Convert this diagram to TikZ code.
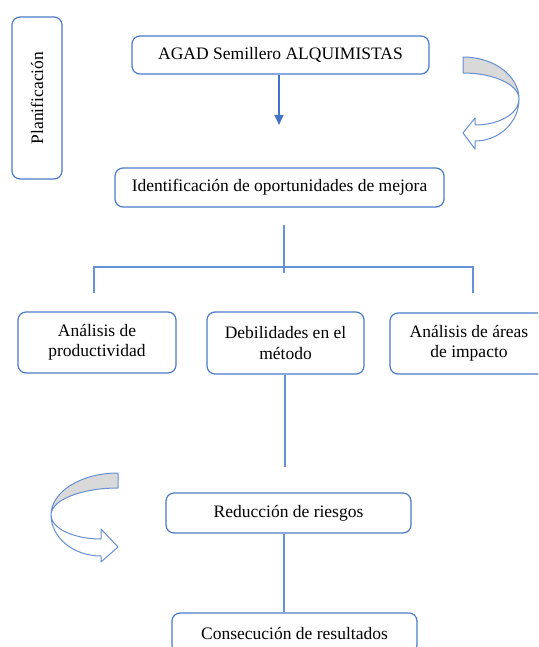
\documentclass[tikz,border=0pt]{standalone}
\usepackage{fontspec}
\setmainfont{Liberation Serif}
\usetikzlibrary{arrows.meta}

\definecolor{azulcaja}{HTML}{4A7BCB}
\definecolor{azullinea}{HTML}{6591D6}
\definecolor{azulflecha}{HTML}{4472C4}
\definecolor{grisbanda}{HTML}{D9D9D9}

\begin{document}
\begin{tikzpicture}[x=1pt, y=-1pt,
        font = \fontsize{17.5}{20.5}\selectfont,
        caja/.style = {draw=azulcaja, line width=1.2pt, rounded corners=8pt,
                       fill=white, align=center, inner sep=0pt},
        linea/.style = {draw=azullinea, line width=1.4pt},
        cinta/.style = {draw=azulcaja!85, line width=1pt, line join=round}]
            \useasboundingbox (0,0) rectangle (538,647);
            \clip (0,0) rectangle (538,647);
            
            \node[caja, rotate=90, minimum width=162pt, minimum height=50pt] (plan) at (37,98) {Planificación};
            \node[caja, minimum width=297pt, minimum height=38pt] (agad) at (280.5,55) {AGAD Semillero ALQUIMISTAS};
            \node[caja, minimum width=329pt, minimum height=39pt] (ident) at (279.5,187.5) {Identificación de oportunidades de mejora};
            
            \node[caja, minimum width=158pt, minimum height=61pt] (prod) at (97,342.5) {Análisis de\\productividad};
            \node[caja, minimum width=157pt, minimum height=62pt] (debil) at (285.5,343) {Debilidades en el\\método};
            \node[caja, minimum width=158pt, minimum height=61pt] (areas) at (469,343.5) {Análisis de áreas\\de impacto};
            
            \node[caja, minimum width=245pt, minimum height=40pt] (riesgo) at (288.5,513) {Reducción de riesgos};
            \node[caja, minimum width=245pt, minimum height=40pt] (conse) at (294.5,633) {Consecución de resultados};
            
            % free ends of the connectors
            \coordinate (punta) at (279,125);
            \coordinate (tronco) at (284,225);
            \coordinate (cruce) at (284,273);
            \coordinate (barra) at (284,267);
            \coordinate (ramaizq) at (94,293);
            \coordinate (ramader) at (473,293);
            \coordinate (corte) at (285,467);
            
            \draw[azulflecha, line width=1.4pt, -{Triangle[width=9pt,length=10pt]}] (agad.south -| punta) -- (punta);
            \draw[linea] (tronco) -- (cruce);
            \draw[linea] (ramaizq) -- (ramaizq |- barra) -- (ramader |- barra) -- (ramader);
            \draw[linea] (debil.south -| corte) -- (corte);
            \draw[linea] (riesgo.south -| tronco) -- (conse.north -| tronco);
            
            % curved arrow, right
            \draw[cinta, fill=grisbanda]
            (463,57) .. controls (493.9,57) and (519,75.8) .. (519,99)
            .. controls (519,84.6) and (493.9,73) .. (463,73) -- cycle;
            \draw[cinta, fill=white]
            (519,99) .. controls (519,122.2) and (499.3,141) .. (475,141)
            -- (475,149) -- (463,133) -- (475,118) -- (475,125)
            .. controls (499.3,125) and (519,113.4) .. (519,99) -- cycle;
            
            % curved arrow, left
            \draw[cinta, fill=grisbanda]
            (118,473) .. controls (81,473) and (51,491.8) .. (51,515)
            .. controls (51,500.1) and (81,488) .. (118,488) -- cycle;
            \draw[cinta, fill=white]
            (51,515) .. controls (51,537.6) and (73.4,556) .. (101,556)
            -- (101,562) -- (118,547) -- (101,529) -- (101,539)
            .. controls (73.4,539) and (51,528.2) .. (51,515) -- cycle;
        \end{tikzpicture}
\end{document}
